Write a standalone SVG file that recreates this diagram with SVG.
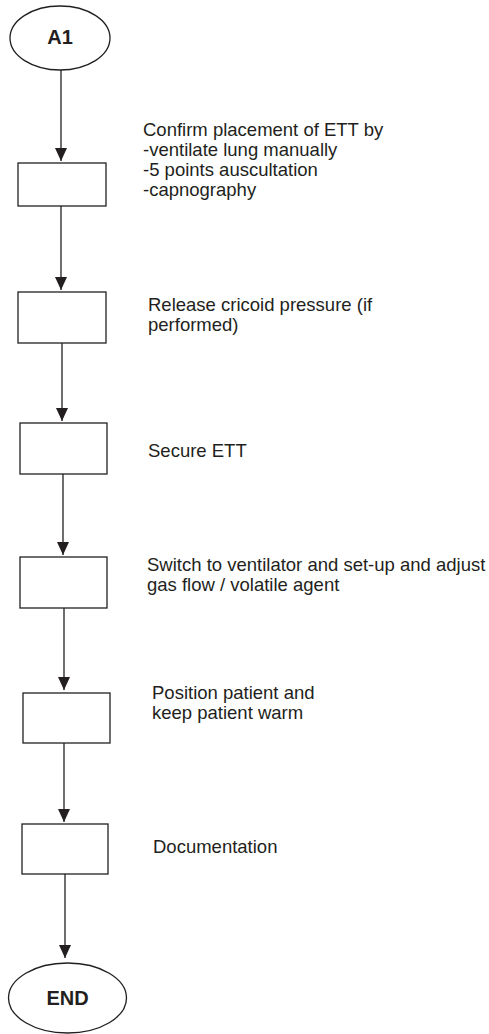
<svg xmlns="http://www.w3.org/2000/svg" width="489" height="1034" viewBox="0 0 489 1034">
  <style>
    .shape { fill: #ffffff; stroke: #231f20; stroke-width: 1.3; }
    .conn { stroke: #231f20; stroke-width: 1.3; fill: none; }
    .label { font-family: "Liberation Sans", Arial, sans-serif; font-size: 18.5px; fill: #231f20; }
    .term { font-family: "Liberation Sans", Arial, sans-serif; font-size: 20px; font-weight: bold; fill: #231f20; text-anchor: middle; }
  </style>
  <defs>
    <marker id="arrow" viewBox="0 0 13 12" refX="13" refY="6" markerWidth="13" markerHeight="12" markerUnits="userSpaceOnUse" orient="auto">
      <path d="M0,0 L13,6 L0,12 Z" fill="#231f20"/>
    </marker>
  </defs>

  <rect width="489" height="1034" fill="#ffffff"/>

  <!-- connectors -->
  <g id="connectors">
    <line class="conn" x1="61" y1="70" x2="61" y2="161" marker-end="url(#arrow)"/>
    <line class="conn" x1="61" y1="206" x2="61" y2="290" marker-end="url(#arrow)"/>
    <line class="conn" x1="62" y1="343" x2="62" y2="421" marker-end="url(#arrow)"/>
    <line class="conn" x1="63" y1="474" x2="63" y2="555" marker-end="url(#arrow)"/>
    <line class="conn" x1="64" y1="608" x2="64" y2="690" marker-end="url(#arrow)"/>
    <line class="conn" x1="64" y1="743" x2="64" y2="822" marker-end="url(#arrow)"/>
    <line class="conn" x1="65" y1="874" x2="65" y2="958" marker-end="url(#arrow)"/>
  </g>

  <!-- start terminal -->
  <g id="start">
    <ellipse class="shape" cx="60" cy="38" rx="50" ry="32"/>
    <text class="term" x="60" y="44">A1</text>
  </g>

  <g id="step1">
    <rect class="shape" x="18" y="163" width="88" height="43"/>
    <text class="label" x="143" y="136">Confirm placement of ETT by</text>
    <text class="label" x="143" y="156">-ventilate lung manually</text>
    <text class="label" x="143" y="176">-5 points auscultation</text>
    <text class="label" x="143" y="196">-capnography</text>
  </g>

  <g id="step2">
    <rect class="shape" x="18" y="292" width="88" height="51"/>
    <text class="label" x="148" y="311">Release cricoid pressure (if</text>
    <text class="label" x="148" y="331">performed)</text>
  </g>

  <g id="step3">
    <rect class="shape" x="20" y="423" width="87" height="51"/>
    <text class="label" x="148" y="457">Secure ETT</text>
  </g>

  <g id="step4">
    <rect class="shape" x="20" y="557" width="87" height="51"/>
    <text class="label" x="147" y="571">Switch to ventilator and set-up and adjust</text>
    <text class="label" x="147" y="591">gas flow / volatile agent</text>
  </g>

  <g id="step5">
    <rect class="shape" x="23" y="693" width="87" height="50"/>
    <text class="label" x="152" y="699">Position patient and</text>
    <text class="label" x="152" y="719">keep patient warm</text>
  </g>

  <g id="step6">
    <rect class="shape" x="22" y="824" width="86" height="50"/>
    <text class="label" x="153" y="853">Documentation</text>
  </g>

  <!-- end terminal -->
  <g id="end">
    <ellipse class="shape" cx="67.5" cy="998" rx="59" ry="35"/>
    <text class="term" x="67.5" y="1005">END</text>
  </g>
</svg>
